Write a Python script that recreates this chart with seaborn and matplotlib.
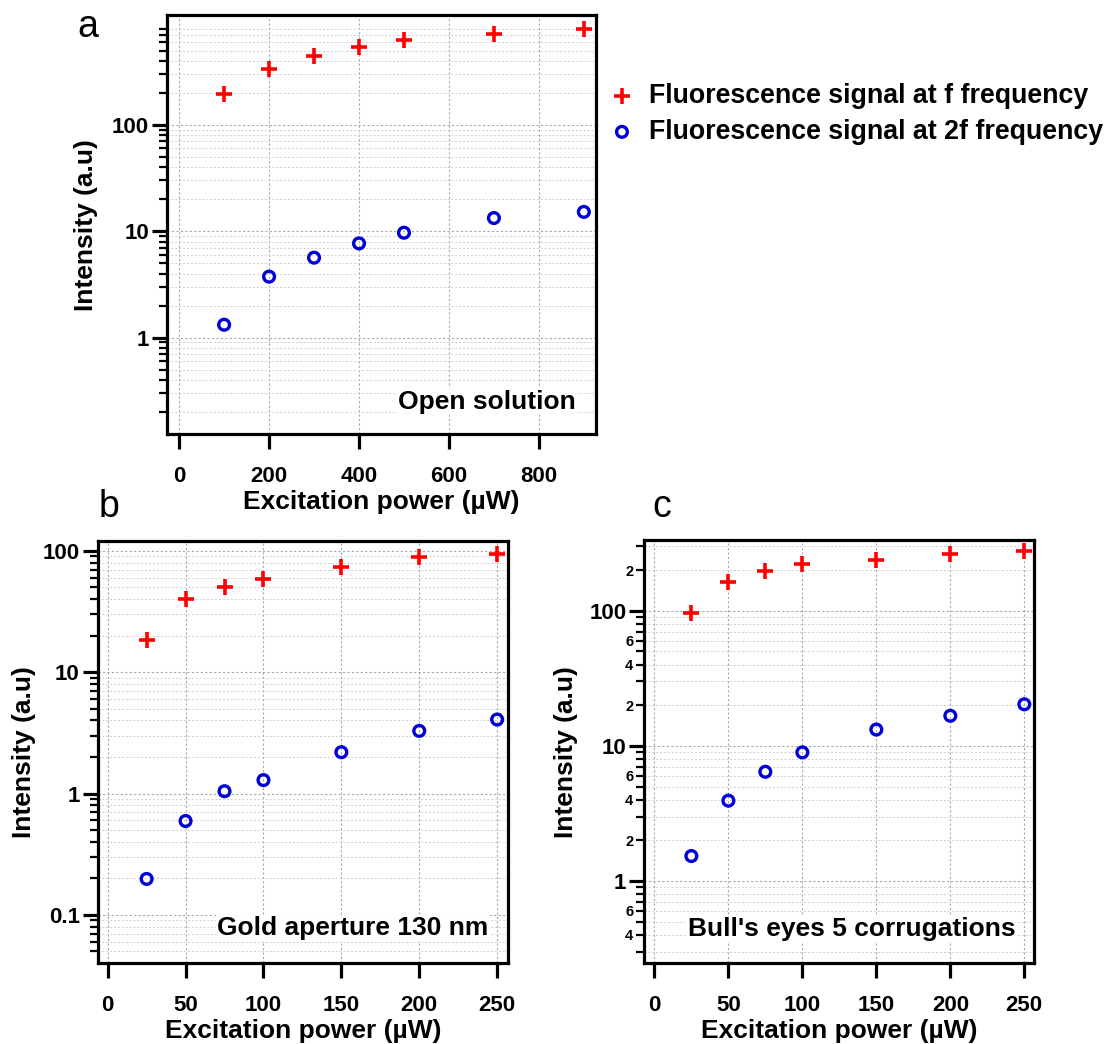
#!/usr/bin/env python3
"""
Fluorescence signal at f and 2f vs excitation power, three samples
"""

import numpy as np
import pandas as pd
import matplotlib
matplotlib.use('Agg')
import matplotlib.pyplot as plt
import matplotlib.ticker as mticker
import seaborn as sns

# --------------------------------------------------
# data
power_a = [100, 200, 300, 400, 500, 700, 900]
f_a = [194, 336, 444, 543, 628, 711, 797]
f2_a = [1.32, 3.74, 5.64, 7.68, 9.68, 13.3, 15.2]

power_b = [25, 50, 75, 100, 150, 200, 250]
f_b = [18.4, 39.8, 50.5, 58.1, 73.4, 89.3, 94.5]
f2_b = [0.198, 0.594, 1.045, 1.29, 2.19, 3.28, 4.07]

power_c = [25, 50, 75, 100, 150, 200, 250]
f_c = [95.6, 163, 197, 221, 237, 261, 276]
f2_c = [1.53, 3.93, 6.43, 8.95, 13.2, 16.7, 20.3]

series_labels = ['Fluorescence signal at f frequency',
                 'Fluorescence signal at 2f frequency']
notes = ['Open solution', 'Gold aperture 130 nm', "Bull's eyes 5 corrugations"]
xticks_a = [0, 200, 400, 600, 800]
xticks_bc = [0, 50, 100, 150, 200, 250]

RED = '#ff0000'
BLUE = '#0000d8'

sns.set_theme(style='white')
plt.rcParams['font.family'] = ['Liberation Sans', 'DejaVu Sans']
plt.rcParams['text.color'] = 'black'
plt.rcParams['axes.labelcolor'] = 'black'
plt.rcParams['xtick.color'] = 'black'
plt.rcParams['ytick.color'] = 'black'


# --------------------------------------------------
def major_fmt(v, pos):
    return '{:g}'.format(v)


def minor_fmt(v, pos):
    """label the 2, 4, 6 minor ticks (panel c style)"""
    exp = np.floor(np.log10(v) + 1e-9)
    m = int(round(v / 10 ** exp))
    return str(m) if m in (2, 4, 6) else ''


# --------------------------------------------------
def log_ticks(ymax):
    """major and minor log tick values, none above ymax"""
    decades = 10.0 ** np.arange(-3, 4)
    major = [d for d in decades if d <= ymax]
    minor = [d * m for d in decades for m in range(2, 10) if d * m <= ymax]
    return major, minor


# --------------------------------------------------
def draw_panel(ax, power, f, f2, xlim, ylim, xticks, note, note_y,
               minor_labels=False, ytick_max=None, ylabelpad=3):
    df = pd.DataFrame({'power': power, 'f': f, 'f2': f2})

    sns.scatterplot(data=df, x='power', y='f', ax=ax, marker='+',
                    s=140, color=RED, linewidth=2.6,
                    label=series_labels[0], zorder=3)
    sns.scatterplot(data=df, x='power', y='f2', ax=ax, marker='o',
                    s=60, facecolor='none', edgecolor=BLUE, linewidth=2.4,
                    label=series_labels[1], zorder=3)

    ax.set_yscale('log')
    ax.set_xlim(*xlim)
    ax.set_ylim(*ylim)
    ax.set_xticks(xticks)

    major, minor = log_ticks(ytick_max if ytick_max else ylim[1])
    ax.yaxis.set_major_locator(mticker.FixedLocator(major))
    ax.yaxis.set_minor_locator(mticker.FixedLocator(minor))
    ax.yaxis.set_major_formatter(mticker.FuncFormatter(major_fmt))
    if minor_labels:
        ax.yaxis.set_minor_formatter(mticker.FuncFormatter(minor_fmt))
    else:
        ax.yaxis.set_minor_formatter(mticker.NullFormatter())

    for sp in ax.spines.values():
        sp.set_visible(True)
        sp.set_color('black')
        sp.set_linewidth(2.3)

    ax.tick_params(axis='both', which='major', direction='out', length=11,
                   width=2.3, color='black', labelsize=16,
                   left=True, bottom=True)
    ax.tick_params(axis='y', which='minor', direction='out', length=6,
                   width=1.6, color='black', left=True, labelsize=10.5)
    ax.tick_params(axis='x', pad=12)
    ax.tick_params(axis='y', which='both', pad=2)
    for lab in ax.get_xticklabels() + ax.get_yticklabels(which='both'):
        lab.set_fontweight('bold')

    ax.grid(True, which='major', axis='both', linestyle=(0, (2, 2)),
            linewidth=0.8, color='#a8a8a8')
    ax.grid(True, which='minor', axis='y', linestyle=(0, (2, 2)),
            linewidth=0.7, color='#cfcfcf')

    ax.set_xlabel('Excitation power (\u00b5W)', fontsize=19,
                  fontweight='bold', labelpad=2)
    ax.set_ylabel('Intensity (a.u)', fontsize=19, fontweight='bold',
                  labelpad=ylabelpad)

    ax.text(0.953, note_y, note, transform=ax.transAxes, ha='right',
            va='center', fontsize=19, fontweight='bold', zorder=4,
            bbox=dict(facecolor='white', edgecolor='none', pad=1))

    ax.get_legend().remove()


# --------------------------------------------------
def main():
    fig = plt.figure(figsize=(11.09, 10.44), dpi=100)
    ax_a = fig.add_axes([0.1506, 0.5840, 0.3868, 0.4016])
    ax_b = fig.add_axes([0.0881, 0.0776, 0.3700, 0.4045])
    ax_c = fig.add_axes([0.5810, 0.0773, 0.3517, 0.4055])

    draw_panel(ax_a, power_a, f_a, f2_a, (-27, 927), (0.123, 1080),
               xticks_a, notes[0], 0.078, ytick_max=850, ylabelpad=10)
    draw_panel(ax_b, power_b, f_b, f2_b, (-6.4, 257), (0.0402, 121),
               xticks_bc, notes[1], 0.083, ylabelpad=4.5)
    draw_panel(ax_c, power_c, f_c, f2_c, (-6.8, 256.8), (0.246, 334),
               xticks_bc, notes[2], 0.081, minor_labels=True, ylabelpad=8)

    handles, _ = ax_a.get_legend_handles_labels()
    fig.legend(handles, series_labels, loc='center left',
               bbox_to_anchor=(0.527, 0.891), frameon=False,
               prop=dict(size=19.3, weight='bold'), handletextpad=0.5,
               labelspacing=0.38, handlelength=1.0)

    fig.text(0.0794, 0.9649, 'a', fontsize=27, ha='center', va='baseline')
    fig.text(0.0983, 0.5048, 'b', fontsize=27, ha='center', va='baseline')
    fig.text(0.5970, 0.5048, 'c', fontsize=27, ha='center', va='baseline')

    fig.savefig('out.png', dpi=100)


# --------------------------------------------------
if __name__ == '__main__':
    main()
